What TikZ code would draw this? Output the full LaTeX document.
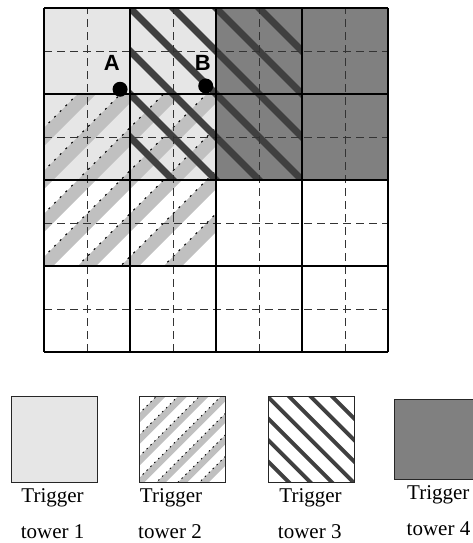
\documentclass[tikz,border=0pt]{standalone}
\usepackage{fontspec}
\setmainfont{Liberation Serif}
\newfontfamily\ptfont{Liberation Sans}
\usepackage{xcolor}
\definecolor{towerlight}{HTML}{E6E6E6}
\definecolor{towerdark}{HTML}{808080}
\definecolor{bandgray}{HTML}{C0C0C0}
\definecolor{stripedark}{HTML}{404040}
\tikzset{
  cellline/.style  = {black, line width=1.1pt},
  halfline/.style  = {black!80, line width=0.8pt, dash pattern=on 8pt off 5pt},
  lightband/.style = {bandgray, line width=13pt},
  dotedge/.style   = {black, line width=1pt, dash pattern=on 2pt off 6pt},
  darkstripe/.style= {stripedark, line width=7pt},
  legline/.style   = {draw=black!85, line width=1pt},
  legtext/.style   = {anchor=base, inner sep=0pt, font=\fontsize{21}{25}\selectfont},
  ptlabel/.style   = {inner sep=0pt, font=\ptfont\bfseries\fontsize{22}{26}\selectfont},
  ptdot/.style     = {circle, fill=black, inner sep=0pt, minimum size=15pt}
}

\begin{document}
\begin{tikzpicture}[x=86pt,y=86pt]
  \useasboundingbox (-0.512,-2.221) rectangle (4.977,4.093);
  % tower 1 and tower 4 backgrounds
  \fill[towerlight] (0,2) rectangle (2,4);
  \fill[towerdark] (2,2) rectangle (4,4);
  % tower 2: light bands running up to the right
  \begin{scope}
    \clip (0,1) rectangle (2,3);
    \foreach \c in {-1.5,-1,...,1.5}{
      \draw[lightband] (-1,\c) -- (3,\c+4);
      \draw[dotedge] (-1,\c+0.11) -- (3,\c+4.11);
    }
  \end{scope}
  % tower 3: dark stripes running down to the right
  \begin{scope}
    \clip (1,2) rectangle (3,4);
    \foreach \d in {0.5,1,...,3.5}
      \draw[darkstripe] (0,3+\d) -- (4,\d-1);
  \end{scope}
  % half-cell dashes and the cell grid
  \foreach \k in {0.5,1.5,2.5,3.5}{
    \draw[halfline] (\k,0) -- (\k,4);
    \draw[halfline] (0,\k) -- (4,\k);
  }
  \draw[cellline,step=1] (0,0) grid (4,4);
  % points A and B
  \node[ptdot] (dotA) at (0.884,3.055) {};
  \node[ptdot] (dotB) at (1.880,3.093) {};
  \node[ptlabel] (labA) at (0.787,3.357) {A};
  \node[ptlabel] (labB) at (1.845,3.357) {B};

  % legend boxes
  \filldraw[legline,fill=towerlight] (-0.384,-1.523) rectangle (0.616,-0.523);
  \begin{scope}[shift={(1.105,-1.523)}]
    \begin{scope}
      \clip (0,0) rectangle (1,1);
      \foreach \c in {-0.75,-0.5,...,0.75}{
        \draw[lightband,line width=6.6pt] (-0.5,\c-0.5) -- (1.5,\c+1.5);
        \draw[dotedge,line width=0.8pt,dash pattern=on 1.5pt off 4pt]
          (-0.5,\c-0.445) -- (1.5,\c+1.555);
      }
    \end{scope}
    \draw[legline] (0,0) rectangle (1,1);
  \end{scope}
  \begin{scope}[shift={(2.605,-1.523)}]
    \begin{scope}
      \clip (0,0) rectangle (1,1);
      \foreach \d in {0.25,0.5,...,1.75}
        \draw[darkstripe,line width=4pt] (-0.5,\d+0.5) -- (1.5,\d-1.5);
    \end{scope}
    \draw[legline] (0,0) rectangle (1,1);
  \end{scope}
  \filldraw[legline,fill=towerdark] (4.07,-1.488) rectangle (5.05,-0.547);

  % legend labels
  \node[legtext] (trig1) at (0.099,-1.745) {Trigger};
  \node[legtext] (tow1)  at (0.099,-2.165) {tower 1};
  \node[legtext] (trig2) at (1.477,-1.745) {Trigger};
  \node[legtext] (tow2)  at (1.465,-2.165) {tower 2};
  \node[legtext] (trig3) at (3.099,-1.745) {Trigger};
  \node[legtext] (tow3)  at (3.090,-2.165) {tower 3};
  \node[legtext] (trig4) at (4.585,-1.712) {Trigger};
  \node[legtext] (tow4)  at (4.587,-2.135) {tower 4};
\end{tikzpicture}
\end{document}
